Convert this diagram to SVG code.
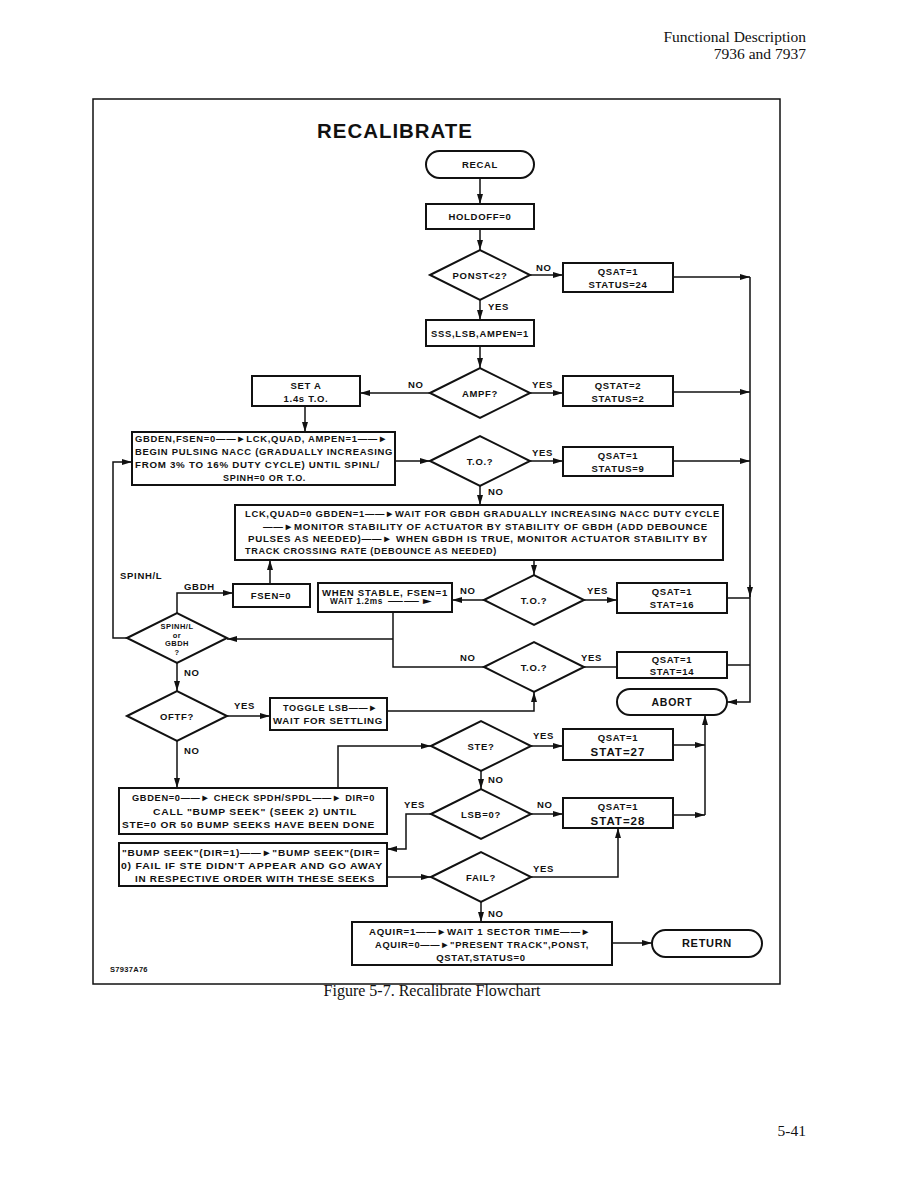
<svg xmlns="http://www.w3.org/2000/svg" width="918" height="1188" viewBox="0 0 918 1188">
<style>
.b{fill:#fff;stroke:#111;stroke-width:2}
.t{font-family:"Liberation Sans",Arial,sans-serif;font-weight:bold;font-size:9.5px;fill:#111;letter-spacing:0.7px}
.c{text-anchor:middle}
.l{fill:none;stroke:#111;stroke-width:1.5}
.a{marker-end:url(#ah)}
.s{font-family:"Liberation Serif","Times New Roman",serif;fill:#111}
</style>
<defs>
<marker id="ah" viewBox="0 0 10 6" refX="10" refY="3" markerWidth="10" markerHeight="6" markerUnits="userSpaceOnUse" orient="auto"><path d="M0,0 L10,3 L0,6 z" fill="#111"/></marker>
</defs>
<rect width="918" height="1188" fill="#fff"/>
<text class="s" x="806" y="42" style="font-size:15.5px" text-anchor="end">Functional Description</text>
<text class="s" x="806" y="59" style="font-size:15.5px" text-anchor="end">7936 and 7937</text>
<rect x="93" y="99" width="687" height="885" fill="none" stroke="#111" stroke-width="1.5"/>
<text class="t" x="317" y="138" style="font-size:20px;font-weight:900;letter-spacing:1px" textLength="156" lengthAdjust="spacingAndGlyphs">RECALIBRATE</text>

<g id="connectors">
<path class="l a" d="M480,178 V204"/>
<path class="l a" d="M480,229 V250"/>
<path class="l a" d="M530,275 H563"/>
<path class="l a" d="M673,277 H750"/>
<path class="l a" d="M750,277 V702 H727"/>
<path class="l a" d="M480,300 V320"/>
<path class="l a" d="M480,346 V368"/>
<path class="l a" d="M530,393 H563"/>
<path class="l a" d="M673,392 H750"/>
<path class="l a" d="M430,393 H360"/>
<path class="l a" d="M305,406 V432"/>
<path class="l a" d="M395,461 H430"/>
<path class="l a" d="M530,461 H563"/>
<path class="l a" d="M673,461 H750"/>
<path class="l a" d="M480,486 V505"/>
<path class="l a" d="M534,560 V575"/>
<path class="l a" d="M584,600 H617"/>
<path class="l" d="M727,598 H750"/>
<path class="l a" d="M750,585 V597"/>
<path class="l a" d="M484,600 H452"/>
<path class="l" d="M393,612 V667 H484"/>
<path class="l a" d="M393,639 H227"/>
<path class="l" d="M584,667 H617"/>
<path class="l" d="M727,665 H750"/>
<path class="l a" d="M177,613 V593 H233"/>
<path class="l a" d="M270,584 V560"/>
<path class="l a" d="M127,638 H113 V462 H132"/>
<path class="l a" d="M177,663 V691"/>
<path class="l a" d="M227,716 H270"/>
<path class="l a" d="M387,711 H534 V692"/>
<path class="l a" d="M177,741 V788"/>
<path class="l a" d="M338,788 V746 H431"/>
<path class="l a" d="M531,746 H563"/>
<path class="l a" d="M673,745 H705"/>
<path class="l a" d="M705,815 V715"/>
<path class="l a" d="M481,771 V789"/>
<path class="l a" d="M531,814 H563"/>
<path class="l a" d="M673,815 H705"/>
<path class="l a" d="M431,814 H406 V849 H387"/>
<path class="l a" d="M387,877 H431"/>
<path class="l a" d="M531,877 H618 V828"/>
<path class="l a" d="M481,902 V922"/>
<path class="l a" d="M612,943 H652"/>
<text class="t" x="536" y="271">NO</text>
<text class="t" x="488" y="310">YES</text>
<text class="t" x="408" y="388">NO</text>
<text class="t" x="532" y="388">YES</text>
<text class="t" x="532" y="456">YES</text>
<text class="t" x="488" y="495">NO</text>
<text class="t" x="460" y="594">NO</text>
<text class="t" x="587" y="594">YES</text>
<text class="t" x="460" y="661">NO</text>
<text class="t" x="581" y="661">YES</text>
<text class="t" x="184" y="590">GBDH</text>
<text class="t" x="120" y="579">SPINH/L</text>
<text class="t" x="184" y="676">NO</text>
<text class="t" x="234" y="709">YES</text>
<text class="t" x="184" y="754">NO</text>
<text class="t" x="533" y="739">YES</text>
<text class="t" x="488" y="783">NO</text>
<text class="t" x="537" y="808">NO</text>
<text class="t" x="404" y="808">YES</text>
<text class="t" x="533" y="872">YES</text>
<text class="t" x="488" y="917">NO</text>
</g>

<g id="recal"><rect class="b" x="426" y="151" width="108" height="27" rx="13.5"/><text class="t c" x="480" y="168">RECAL</text></g>
<g id="holdoff"><rect class="b" x="426" y="204" width="108" height="25"/><text class="t c" x="480" y="220">HOLDOFF=0</text></g>
<g id="ponst"><path class="b" d="M430,275 L480,250 L530,275 L480,300 Z"/><text class="t c" x="480" y="279">PONST&lt;2?</text></g>
<g id="qsat24"><rect class="b" x="563" y="263" width="110" height="29"/><text class="t c" x="618" y="275">QSAT=1</text><text class="t c" x="618" y="288">STATUS=24</text></g>
<g id="sss"><rect class="b" x="426" y="320" width="108" height="26"/><text class="t c" x="480" y="337" textLength="98" lengthAdjust="spacingAndGlyphs">SSS,LSB,AMPEN=1</text></g>
<g id="ampf"><path class="b" d="M430,393 L480,368 L530,393 L480,418 Z"/><text class="t c" x="480" y="397">AMPF?</text></g>
<g id="seta"><rect class="b" x="252" y="376" width="108" height="30"/><text class="t c" x="306" y="389">SET A</text><text class="t c" x="306" y="402">1.4s T.O.</text></g>
<g id="qstat2"><rect class="b" x="563" y="376" width="110" height="30"/><text class="t c" x="618" y="389">QSTAT=2</text><text class="t c" x="618" y="402">STATUS=2</text></g>
<g id="gbden"><rect class="b" x="132" y="432" width="263" height="53"/>
<text class="t" x="135" y="442" textLength="253" lengthAdjust="spacingAndGlyphs">GBDEN,FSEN=0——►LCK,QUAD, AMPEN=1——►</text>
<text class="t" x="135" y="455" textLength="258" lengthAdjust="spacingAndGlyphs">BEGIN PULSING NACC (GRADUALLY INCREASING</text>
<text class="t" x="135" y="468" textLength="245" lengthAdjust="spacingAndGlyphs">FROM 3% TO 16% DUTY CYCLE) UNTIL SPINL/</text>
<text class="t" x="223" y="481" textLength="83" lengthAdjust="spacingAndGlyphs">SPINH=0 OR T.O.</text></g>
<g id="to1"><path class="b" d="M430,461 L480,436 L530,461 L480,486 Z"/><text class="t c" x="480" y="465">T.O.?</text></g>
<g id="qsat9"><rect class="b" x="563" y="447" width="110" height="29"/><text class="t c" x="618" y="459">QSAT=1</text><text class="t c" x="618" y="472">STATUS=9</text></g>
<g id="lck"><rect class="b" x="235" y="505" width="488" height="55"/>
<text class="t" x="245" y="517" textLength="475" lengthAdjust="spacingAndGlyphs">LCK,QUAD=0 GBDEN=1——►WAIT FOR GBDH GRADUALLY INCREASING NACC DUTY CYCLE</text>
<text class="t" x="263" y="530" textLength="445" lengthAdjust="spacingAndGlyphs">——►MONITOR STABILITY OF ACTUATOR BY STABILITY OF GBDH (ADD DEBOUNCE</text>
<text class="t" x="248" y="542" textLength="460" lengthAdjust="spacingAndGlyphs">PULSES AS NEEDED)——► WHEN GBDH IS TRUE, MONITOR ACTUATOR STABILITY BY</text>
<text class="t" x="245" y="554" textLength="252" lengthAdjust="spacingAndGlyphs">TRACK CROSSING RATE (DEBOUNCE AS NEEDED)</text></g>
<g id="to2"><path class="b" d="M484,600 L534,575 L584,600 L534,625 Z"/><text class="t c" x="534" y="604">T.O.?</text></g>
<g id="qsat16"><rect class="b" x="617" y="583" width="110" height="30"/><text class="t c" x="672" y="595">QSAT=1</text><text class="t c" x="672" y="608">STAT=16</text></g>
<g id="whenstable"><rect class="b" x="318" y="583" width="134" height="29"/>
<text class="t" x="322" y="596" style="font-size:9px" textLength="126" lengthAdjust="spacingAndGlyphs">WHEN STABLE, FSEN=1</text>
<text class="t" x="330" y="604" style="font-size:8.5px" textLength="53" lengthAdjust="spacingAndGlyphs">WAIT 1.2ms</text>
<text class="t" x="388" y="604" style="font-size:8.5px" textLength="48" lengthAdjust="spacingAndGlyphs">——►</text></g>
<g id="fsen0"><rect class="b" x="233" y="584" width="77" height="23"/><text class="t c" x="271" y="599">FSEN=0</text></g>
<g id="spinh"><path class="b" d="M127,638 L177,613 L227,638 L177,663 Z"/>
<text class="t c" style="font-size:7.5px;letter-spacing:0.5px"><tspan x="177" y="629">SPINH/L</tspan><tspan x="177" y="637.5">or</tspan><tspan x="177" y="646">GBDH</tspan><tspan x="177" y="655">?</tspan></text></g>
<g id="to3"><path class="b" d="M484,667 L534,642 L584,667 L534,692 Z"/><text class="t c" x="534" y="671">T.O.?</text></g>
<g id="qsat14"><rect class="b" x="617" y="652" width="110" height="26"/><text class="t c" x="672" y="663">QSAT=1</text><text class="t c" x="672" y="675">STAT=14</text></g>
<g id="abort"><rect class="b" x="617" y="689" width="110" height="26" rx="13"/><text class="t c" x="672" y="706" style="font-size:10.5px">ABORT</text></g>
<g id="oftf"><path class="b" d="M127,716 L177,691 L227,716 L177,741 Z"/><text class="t c" x="177" y="720">OFTF?</text></g>
<g id="toggle"><rect class="b" x="270" y="698" width="117" height="32"/><text class="t" x="283" y="711" textLength="95" lengthAdjust="spacingAndGlyphs">TOGGLE LSB——►</text><text class="t" x="273" y="724" textLength="110" lengthAdjust="spacingAndGlyphs">WAIT FOR SETTLING</text></g>
<g id="ste"><path class="b" d="M431,746 L481,721 L531,746 L481,771 Z"/><text class="t c" x="481" y="750">STE?</text></g>
<g id="qsat27"><rect class="b" x="563" y="729" width="110" height="31"/><text class="t c" x="618" y="741">QSAT=1</text><text class="t c" x="618" y="756" style="font-size:11.5px;letter-spacing:1px">STAT=27</text></g>
<g id="gbden0"><rect class="b" x="119" y="788" width="268" height="46"/>
<text class="t" x="132" y="801" textLength="243" lengthAdjust="spacingAndGlyphs">GBDEN=0——► CHECK SPDH/SPDL——► DIR=0</text>
<text class="t" x="153" y="815" textLength="204" lengthAdjust="spacingAndGlyphs">CALL "BUMP SEEK" (SEEK 2) UNTIL</text>
<text class="t" x="122" y="828" textLength="253" lengthAdjust="spacingAndGlyphs">STE=0 OR 50 BUMP SEEKS HAVE BEEN DONE</text></g>
<g id="lsb"><path class="b" d="M431,814 L481,789 L531,814 L481,839 Z"/><text class="t c" x="481" y="818">LSB=0?</text></g>
<g id="qsat28"><rect class="b" x="563" y="798" width="110" height="30"/><text class="t c" x="618" y="810">QSAT=1</text><text class="t c" x="618" y="825" style="font-size:11.5px;letter-spacing:1px">STAT=28</text></g>
<g id="bump"><rect class="b" x="119" y="843" width="268" height="43"/>
<text class="t" x="122" y="856" textLength="258" lengthAdjust="spacingAndGlyphs">"BUMP SEEK"(DIR=1)——►"BUMP SEEK"(DIR=</text>
<text class="t" x="121" y="869" textLength="262" lengthAdjust="spacingAndGlyphs">0) FAIL IF STE DIDN'T APPEAR AND GO AWAY</text>
<text class="t" x="135" y="882" textLength="240" lengthAdjust="spacingAndGlyphs">IN RESPECTIVE ORDER WITH THESE SEEKS</text></g>
<g id="fail"><path class="b" d="M431,877 L481,852 L531,877 L481,902 Z"/><text class="t c" x="481" y="881">FAIL?</text></g>
<g id="aquir"><rect class="b" x="352" y="922" width="260" height="43"/>
<text class="t" x="369" y="935" textLength="222" lengthAdjust="spacingAndGlyphs">AQUIR=1——►WAIT 1 SECTOR TIME——►</text>
<text class="t" x="375" y="948" textLength="214" lengthAdjust="spacingAndGlyphs">AQUIR=0——►"PRESENT TRACK",PONST,</text>
<text class="t c" x="481" y="961">QSTAT,STATUS=0</text></g>
<g id="return"><rect class="b" x="652" y="930" width="110" height="27" rx="13.5"/><text class="t c" x="707" y="947" style="font-size:11px">RETURN</text></g>

<text class="t" x="110" y="972" style="font-size:7.5px;letter-spacing:0.3px">S7937A76</text>
<text class="s" x="432" y="996" style="font-size:16px" text-anchor="middle">Figure 5-7.  Recalibrate Flowchart</text>
<text class="s" x="806" y="1136" style="font-size:15.5px" text-anchor="end">5-41</text>
</svg>
